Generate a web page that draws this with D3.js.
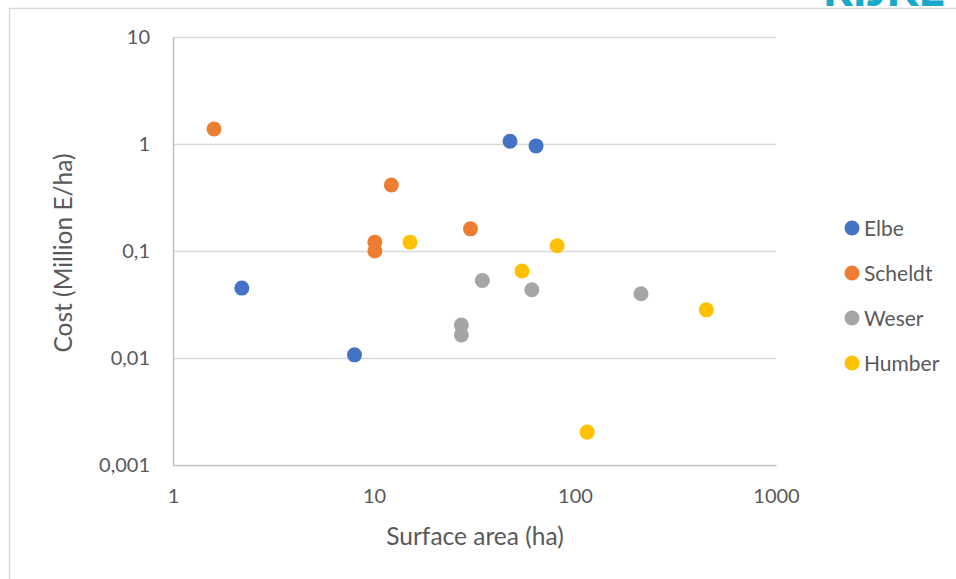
<!DOCTYPE html>
<html><head><meta charset="utf-8">
<script src="https://cdn.jsdelivr.net/npm/d3@7/dist/d3.min.js"></script>
<style>html,body{margin:0;padding:0;background:#fff;overflow:hidden}</style>
</head><body>
<script>
const seriesNames = ["Elbe", "Scheldt", "Weser", "Humber"];
const seriesColors = ["#4472C4", "#ED7D31", "#A5A5A5", "#FFC000"];
const elbe = [[2.2, 0.045], [8, 0.0107], [47.5, 1.06], [64, 0.96]];
const scheldt = [[1.6, 1.38], [12.2, 0.414], [10.1, 0.121], [10.1, 0.1], [30.2, 0.161]];
const weser = [[34.6, 0.053], [61, 0.0434], [27.2, 0.0203], [27.2, 0.0164], [213, 0.0398]];
const humber = [[15.1, 0.121], [54.5, 0.065], [81.5, 0.112], [115, 0.00203], [450, 0.0282]];
const xTicks = [1, 10, 100, 1000];
const xTickLabels = ["1", "10", "100", "1000"];
const yTicks = [0.001, 0.01, 0.1, 1, 10];
const yTickLabels = ["0,001", "0,01", "0,1", "1", "10"];
const xTitle = "Surface area (ha)";
const yTitle = "Cost (Million E/ha)";
const allSeries = [elbe, scheldt, weser, humber];

const W = 956, H = 579;
const font = "Lato, 'Open Sans', sans-serif";
const txt = "#595959";
const svg = d3.select("body").append("svg").attr("width", W).attr("height", H);

// outer frame
svg.append("path").attr("d", `M9.5,${H} V8.5 H${W}`).attr("fill", "none").attr("stroke", "#d9d9d9").attr("stroke-width", 1.5);
// logo fragment (cut off at the top edge, as in the reference)
svg.append("text").attr("x", 945).attr("y", 6).attr("text-anchor", "end")
  .attr("font-family", font).attr("font-weight", 900).attr("font-size", 46)
  .attr("fill", "#19A9CA").text("RIJKE");

const x = d3.scaleLog().domain([1, 1000]).range([173, 776]);
const y = d3.scaleLog().domain([0.001, 10]).range([465, 37]);

// gridlines
svg.append("g").selectAll("line").data(yTicks.slice(1)).join("line")
  .attr("x1", x(1)).attr("x2", x(1000))
  .attr("y1", d => Math.round(y(d)) + 0.5).attr("y2", d => Math.round(y(d)) + 0.5)
  .attr("stroke", "#d9d9d9").attr("stroke-width", 1.5);

// axes
const xAxis = d3.axisBottom(x).tickValues(xTicks).tickFormat((d, i) => xTickLabels[i]).tickSize(0).tickPadding(24);
const gx = svg.append("g").attr("transform", `translate(0,${y(0.001)})`).call(xAxis);
gx.select(".domain").attr("stroke", "#bfbfbf").attr("stroke-width", 1.5);
gx.selectAll("text").attr("font-family", font).attr("font-size", 20).attr("fill", txt);

const yAxis = d3.axisLeft(y).tickValues(yTicks).tickFormat((d, i) => yTickLabels[i]).tickSize(0).tickPadding(23);
const gy = svg.append("g").attr("transform", `translate(${x(1)},0)`).call(yAxis);
gy.select(".domain").attr("stroke", "#bfbfbf").attr("stroke-width", 1.5);
gy.selectAll("text").attr("font-family", font).attr("font-size", 20).attr("fill", txt);

// titles
svg.append("text").attr("x", 475).attr("y", 545).attr("text-anchor", "middle")
  .attr("font-family", font).attr("font-size", 24.5).attr("fill", txt).text(xTitle);
svg.append("text").attr("transform", "translate(72,253) rotate(-90)").attr("text-anchor", "middle")
  .attr("font-family", font).attr("font-size", 24.5).attr("fill", txt).text(yTitle);

// points
allSeries.forEach((s, i) => {
  svg.append("g").selectAll("circle").data(s).join("circle")
    .attr("cx", d => x(d[0])).attr("cy", d => y(d[1])).attr("r", 7.5)
    .attr("fill", seriesColors[i]);
});

// legend
const lg = svg.append("g");
seriesNames.forEach((n, i) => {
  const cy = 228 + i * 45;
  lg.append("circle").attr("cx", 852).attr("cy", cy).attr("r", 7.5).attr("fill", seriesColors[i]);
  lg.append("text").attr("x", 864).attr("y", cy + 8).attr("font-family", font).attr("font-size", 21)
    .attr("fill", txt).text(n);
});
</script>
</body></html>
